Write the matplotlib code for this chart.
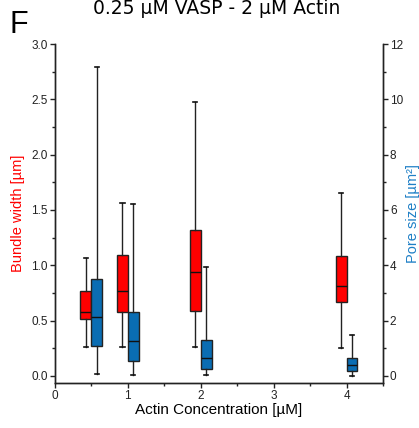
import matplotlib
matplotlib.use("Agg")
import matplotlib.pyplot as plt
from matplotlib.ticker import MultipleLocator

# actin concentrations (uM)
conc = [0.5, 1, 2, 4]

# bundle width [um]: whisker low, q1, median, q3, whisker high
bw_low = [0.26, 0.26, 0.26, 0.25]
bw_q1 = [0.51, 0.58, 0.59, 0.67]
bw_med = [0.58, 0.77, 0.94, 0.81]
bw_q3 = [0.77, 1.09, 1.32, 1.08]
bw_high = [1.07, 1.56, 2.48, 1.65]

# pore size [um^2]
ps_low = [0.05, 0.04, 0.04, 0.01]
ps_q1 = [1.08, 0.53, 0.25, 0.19]
ps_med = [2.12, 1.25, 0.63, 0.41]
ps_q3 = [3.52, 2.30, 1.29, 0.64]
ps_high = [11.18, 6.23, 3.95, 1.49]

red = "#ff0000"
blue = "#0a6db3"
blue_txt = "#1e7fc6"


def make_stats(low, q1, med, q3, high):
    stats = []
    for i in range(len(low)):
        stats.append({"whislo": low[i], "q1": q1[i], "med": med[i],
                      "q3": q3[i], "whishi": high[i], "fliers": []})
    return stats


def draw(ax, stats, pos, color):
    ax.bxp(stats, positions=pos, widths=0.15, patch_artist=True,
           showfliers=False, manage_ticks=False,
           boxprops=dict(facecolor=color, edgecolor="#222222", linewidth=1),
           medianprops=dict(color="#111111", linewidth=1),
           whiskerprops=dict(color="#222222", linewidth=1),
           capprops=dict(color="#111111", linewidth=1.2), capwidths=0.06)


plt.rcParams["font.family"] = ["Liberation Sans", "DejaVu Sans"]
fig = plt.figure(figsize=(4.19, 4.28), dpi=100)
ax = fig.add_axes([0.131, 0.105, 0.783, 0.792])
ax2 = ax.twinx()

draw(ax, make_stats(bw_low, bw_q1, bw_med, bw_q3, bw_high),
     [c - 0.075 for c in conc], red)
draw(ax2, make_stats(ps_low, ps_q1, ps_med, ps_q3, ps_high),
     [c + 0.075 for c in conc], blue)

ax.set_xlim(0, 4.5)
ax.set_ylim(-0.065, 3.0)
ax2.set_ylim(-0.26, 12)

for a in (ax, ax2):
    a.spines["top"].set_visible(False)
    for s in a.spines.values():
        s.set_linewidth(1)
        s.set_color("#222222")

ax.xaxis.set_major_locator(MultipleLocator(1))
ax.xaxis.set_minor_locator(MultipleLocator(0.5))
ax.yaxis.set_major_locator(MultipleLocator(0.5))
ax.yaxis.set_minor_locator(MultipleLocator(0.25))
ax2.yaxis.set_major_locator(MultipleLocator(2))
ax2.yaxis.set_minor_locator(MultipleLocator(1))

for a in (ax, ax2):
    a.tick_params(which="major", direction="out", length=3.5, width=1,
                  labelsize=8.5, pad=1.5, colors="#222222")
    a.tick_params(which="minor", direction="out", length=2, width=1,
                  colors="#222222")

ax.set_xlabel("Actin Concentration [µM]", fontsize=11, labelpad=1)
ax.set_ylabel("Bundle width [µm]", fontsize=10.5, color=red, labelpad=5)
ax2.set_ylabel("Pore size [µm²]", fontsize=10.5, color=blue_txt, labelpad=2)

fig.text(0.517, 0.967, "0.25 µM VASP - 2 µM Actin", ha="center",
         va="baseline", fontsize=13.5, family="DejaVu Sans")
fig.text(0.022, 0.923, "F", fontsize=22, ha="left", va="baseline")

fig.savefig("out.png", dpi=100)
